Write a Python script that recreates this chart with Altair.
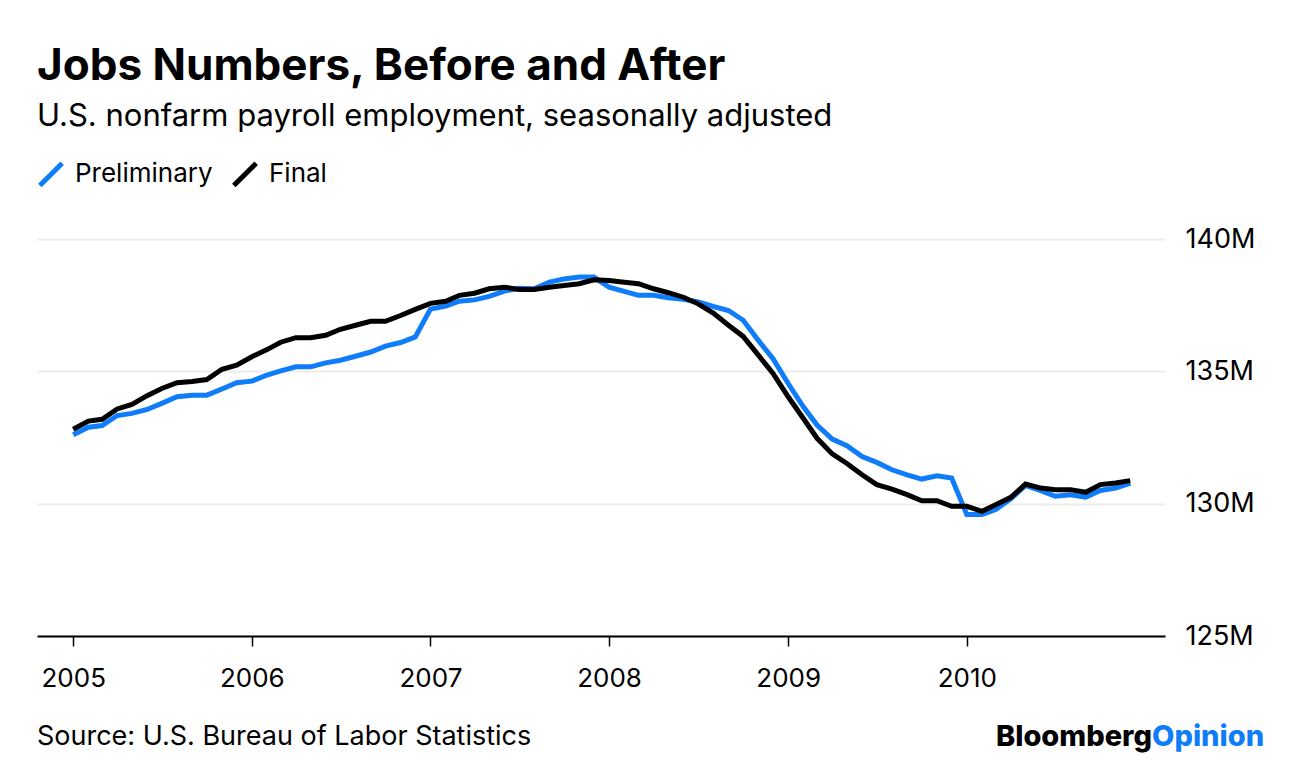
import altair as alt
import pandas as pd

# ---- data (millions of jobs), monthly Jan 2005 - Dec 2010 ----
months = [f"{2005 + i // 12}-{i % 12 + 1:02d}-01" for i in range(72)]

preliminary = [
    132.60, 132.89, 132.95, 133.33, 133.41, 133.56, 133.79, 134.04, 134.10, 134.10, 134.33, 134.57,
    134.63, 134.86, 135.02, 135.17, 135.17, 135.32, 135.42, 135.57, 135.73, 135.95, 136.09, 136.30,
    137.35, 137.47, 137.65, 137.70, 137.83, 138.03, 138.14, 138.12, 138.37, 138.49, 138.56, 138.56,
    138.18, 138.02, 137.87, 137.87, 137.78, 137.72, 137.62, 137.45, 137.30, 136.93, 136.17, 135.48,
    134.54, 133.66, 132.97, 132.44, 132.19, 131.78, 131.56, 131.28, 131.09, 130.93, 131.05, 130.97,
    129.59, 129.59, 129.78, 130.18, 130.69, 130.49, 130.28, 130.34, 130.25, 130.50, 130.59, 130.78,
]

final = [
    132.81, 133.12, 133.19, 133.58, 133.75, 134.08, 134.35, 134.57, 134.62, 134.69, 135.08, 135.23,
    135.55, 135.82, 136.10, 136.27, 136.27, 136.36, 136.59, 136.74, 136.89, 136.89, 137.11, 137.34,
    137.57, 137.65, 137.87, 137.95, 138.12, 138.18, 138.09, 138.09, 138.18, 138.24, 138.31, 138.46,
    138.43, 138.37, 138.31, 138.12, 137.97, 137.80, 137.55, 137.20, 136.74, 136.32, 135.61, 134.92,
    134.04, 133.22, 132.47, 131.88, 131.52, 131.09, 130.72, 130.55, 130.34, 130.11, 130.11, 129.90,
    129.90, 129.71, 129.96, 130.24, 130.74, 130.59, 130.53, 130.53, 130.43, 130.72, 130.78, 130.87,
]

series_names = ["Preliminary", "Final"]
series_colors = ["#0f7cfa", "#000000"]
year_ticks = [2005, 2006, 2007, 2008, 2009, 2010]
y_ticks = [125, 130, 135, 140]

title_text = "Jobs Numbers, Before and After"
subtitle_text = "U.S. nonfarm payroll employment, seasonally adjusted"
source_text = "Source: U.S. Bureau of Labor Statistics"

df = pd.DataFrame({
    "date": months + months,
    "value": preliminary + final,
    "series": [series_names[0]] * len(months) + [series_names[1]] * len(months),
})

W, H = 1128, 397
FONT = "Inter"

x_enc = alt.X(
    "date:T",
    scale=alt.Scale(
        type="utc",
        domain=[alt.DateTime(year=2004, month=10, date=19, utc=True),
                alt.DateTime(year=2011, month=2, date=10, utc=True)],
    ),
    axis=alt.Axis(
        values=[alt.DateTime(year=y, month=1, date=1, utc=True) for y in year_ticks],
        format="%Y", formatType="utc", title=None, grid=False,
        domainColor="#000000", domainWidth=2, tickColor="#000000", tickWidth=1.5,
        tickSize=10, labelFontSize=26, labelPadding=19, labelColor="#000000",
        labelFont=FONT, zindex=1,
    ),
)

y_enc = alt.Y(
    "value:Q",
    scale=alt.Scale(domain=[125, 140], nice=False, zero=False),
    axis=alt.Axis(
        orient="right", values=y_ticks, labelExpr="datum.value + 'M'",
        domain=False, ticks=False, gridColor="#ececec", gridWidth=2,
        labelFontSize=27, labelPadding=20, labelAlign="left", labelBaseline="middle",
        labelColor="#000000", labelFont=FONT, title=None,
    ),
)

lines = alt.Chart(df).mark_line(strokeWidth=5, strokeJoin="miter").encode(
    x=x_enc,
    y=y_enc,
    color=alt.Color(
        "series:N",
        scale=alt.Scale(domain=series_names, range=series_colors),
        legend=alt.Legend(
            title=None, orient="top", direction="horizontal",
            symbolType="M-1,1L1,-1", symbolStrokeWidth=5, symbolSize=500,
            labelFontSize=26, labelColor="#000000", labelFont=FONT,
            labelOffset=10, columnPadding=10, offset=43, padding=0,
        ),
    ),
)

source = alt.Chart(pd.DataFrame({"t": [source_text]})).mark_text(
    align="left", baseline="alphabetic", fontSize=27, font=FONT, color="#000000"
).encode(x=alt.value(0), y=alt.value(H + 109), text="t:N")

logo_left = alt.Chart(pd.DataFrame({"t": ["Bloomberg"]})).mark_text(
    align="right", baseline="alphabetic", fontSize=29, font=FONT, fontWeight=800,
    color="#000000"
).encode(x=alt.value(1115), y=alt.value(H + 110), text="t:N")

logo_right = alt.Chart(pd.DataFrame({"t": ["Opinion"]})).mark_text(
    align="left", baseline="alphabetic", fontSize=29, font=FONT, fontWeight=800,
    color=series_colors[0]
).encode(x=alt.value(1115), y=alt.value(H + 110), text="t:N")

chart = alt.layer(lines, source, logo_left, logo_right).properties(
    width=W, height=H,
    background="#ffffff",
    padding={"left": 29, "top": 37, "right": 10, "bottom": 10},
    title=alt.TitleParams(
        text=title_text, subtitle=subtitle_text, anchor="start", frame="group",
        font=FONT, fontSize=44, fontWeight="bold", color="#000000",
        subtitleFont=FONT, subtitleFontSize=31, subtitleColor="#000000",
        subtitlePadding=13, offset=28,
    ),
).configure_view(stroke=None)

chart.save("out.html", embed_options={"renderer": "svg", "actions": False})
